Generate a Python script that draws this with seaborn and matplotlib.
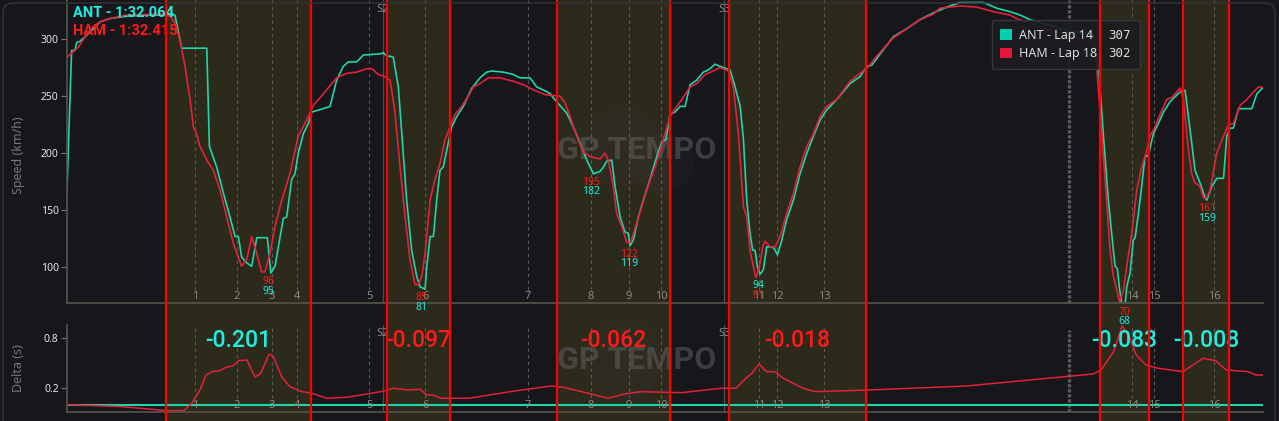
import matplotlib
matplotlib.use("Agg")
import matplotlib.pyplot as plt
import seaborn as sns
from matplotlib.patches import Patch, Circle, FancyBboxPatch
from matplotlib.transforms import IdentityTransform

# --- data (distance in m, speed in km/h) ---
lap_length = 5451
drivers = ["ANT", "HAM"]
lap_times = ["1:32.064", "1:32.415"]
lap_numbers = [14, 18]

ant_dist = [0, 21, 36, 44, 59, 82, 120, 150, 196, 272,
            348, 492, 523, 637, 649, 682, 713, 743, 766, 781,
            796, 819, 842, 865, 913, 929, 948, 986, 1001, 1024,
            1039, 1054, 1077, 1100, 1115, 1184, 1199, 1229, 1259, 1282,
            1320, 1351, 1427, 1442, 1457, 1472, 1487, 1510, 1526, 1548,
            1571, 1594, 1609, 1632, 1640, 1655, 1670, 1685, 1700, 1715,
            1738, 1753, 1776, 1806, 1845, 1882, 1913, 1936, 1989, 2034,
            2065, 2110, 2118, 2141, 2186, 2202, 2232, 2278, 2308, 2338,
            2369, 2399, 2429, 2445, 2460, 2483, 2498, 2521, 2543, 2558,
            2566, 2581, 2604, 2627, 2657, 2688, 2711, 2730, 2748, 2771,
            2794, 2817, 2840, 2870, 2900, 2923, 2954, 2976, 3022, 3045,
            3068, 3083, 3098, 3113, 3125, 3136, 3146, 3159, 3174, 3189,
            3204, 3222, 3238, 3258, 3280, 3311, 3341, 3372, 3402, 3432,
            3463, 3508, 3569, 3614, 3645, 3668, 3706, 3766, 3827, 3888,
            3949, 4010, 4070, 4177, 4238, 4298, 4344, 4389, 4567, 4676,
            4701, 4723, 4746, 4769, 4777, 4787, 4796, 4807, 4823, 4830,
            4845, 4860, 4868, 4883, 4898, 4913, 4929, 4951, 4974, 4997,
            5027, 5058, 5081, 5096, 5111, 5126, 5141, 5164, 5187, 5195,
            5218, 5240, 5271, 5286, 5301, 5316, 5339, 5400, 5423, 5448]
ant_speed = [168, 290, 290, 297, 298, 302, 309, 315, 318, 320,
             321, 321, 292, 292, 206, 188, 165, 144, 127, 127,
             109, 104, 101, 126, 126, 95, 101, 143, 144, 177,
             182, 200, 217, 226, 236, 240, 241, 264, 276, 280,
             280, 286, 287, 288, 285, 285, 284, 258, 217, 159,
             115, 92, 83, 81, 101, 127, 127, 159, 185, 188,
             209, 223, 232, 241, 257, 266, 271, 272, 271, 269,
             266, 266, 264, 258, 254, 252, 245, 235, 223, 209,
             194, 182, 184, 188, 193, 194, 171, 144, 131, 130,
             119, 124, 144, 159, 177, 197, 210, 212, 234, 236,
             241, 241, 260, 264, 271, 273, 278, 276, 273, 258,
             241, 212, 159, 130, 115, 115, 101, 94, 98, 118,
             118, 117, 111, 124, 142, 159, 182, 200, 215, 229,
             238, 247, 261, 267, 276, 277, 287, 302, 309, 317,
             323, 328, 332, 332, 327, 324, 321, 317, 307, 304,
             276, 217, 159, 115, 101, 99, 83, 68, 68, 83,
             95, 124, 126, 147, 171, 197, 198, 217, 226, 236,
             245, 251, 255, 255, 232, 209, 185, 174, 161, 159,
             171, 178, 178, 215, 222, 222, 239, 239, 252, 257]

ham_dist = [0, 52, 82, 120, 150, 196, 272, 424, 469, 492,
            515, 538, 561, 576, 591, 606, 637, 667, 697, 728,
            758, 796, 819, 842, 865, 887, 902, 925, 948, 979,
            1016, 1054, 1092, 1123, 1168, 1229, 1275, 1320, 1366, 1389,
            1419, 1449, 1472, 1480, 1495, 1518, 1541, 1563, 1586, 1601,
            1617, 1632, 1655, 1677, 1700, 1723, 1746, 1768, 1799, 1829,
            1852, 1882, 1920, 1974, 2034, 2080, 2110, 2156, 2186, 2247,
            2270, 2293, 2323, 2353, 2384, 2429, 2452, 2467, 2490, 2505,
            2528, 2551, 2569, 2597, 2619, 2642, 2680, 2718, 2748, 2779,
            2802, 2840, 2870, 2908, 2946, 2976, 3014, 3037, 3060, 3083,
            3098, 3113, 3128, 3140, 3156, 3171, 3182, 3204, 3227, 3250,
            3280, 3311, 3341, 3372, 3402, 3432, 3463, 3508, 3569, 3614,
            3645, 3690, 3766, 3827, 3888, 3949, 3979, 4070, 4146, 4222,
            4298, 4328, 4567, 4676, 4693, 4716, 4738, 4754, 4769, 4785,
            4796, 4815, 4830, 4853, 4876, 4898, 4918, 4936, 4959, 4982,
            5012, 5035, 5050, 5073, 5088, 5111, 5126, 5141, 5164, 5179,
            5195, 5210, 5240, 5271, 5294, 5316, 5347, 5377, 5400, 5430,
            5448]
ham_speed = [284, 293, 302, 311, 315, 318, 321, 322, 320, 314,
             299, 276, 247, 223, 217, 206, 194, 185, 168, 144,
             121, 101, 107, 127, 112, 96, 96, 112, 136, 159,
             182, 215, 229, 242, 252, 266, 270, 271, 274, 274,
             269, 267, 264, 255, 235, 188, 144, 107, 85, 85,
             92, 112, 159, 177, 191, 212, 223, 234, 241, 250,
             258, 261, 266, 266, 263, 260, 257, 253, 251, 250,
             244, 232, 215, 201, 197, 195, 200, 194, 171, 147,
             136, 122, 122, 139, 153, 168, 188, 212, 232, 241,
             247, 258, 261, 269, 272, 275, 272, 258, 217, 153,
             144, 115, 101, 91, 101, 118, 123, 118, 118, 127,
             147, 165, 188, 206, 217, 232, 241, 247, 263, 270,
             274, 285, 301, 309, 317, 322, 327, 329, 328, 324,
             321, 318, 302, 298, 276, 217, 159, 115, 92, 80,
             70, 80, 101, 130, 168, 188, 200, 215, 223, 234,
             247, 249, 252, 257, 247, 203, 182, 174, 171, 161,
             161, 168, 200, 215, 225, 226, 242, 247, 252, 258,
             258]

# gap to ANT (s), ANT is the reference at zero
delta_dist = [0, 251, 456, 533, 570, 606, 634, 661, 697, 727,
              755, 783, 820, 857, 884, 921, 941, 978, 1016, 1071,
              1117, 1183, 1276, 1367, 1444, 1490, 1554, 1609, 1639, 1667,
              1704, 1832, 2019, 2206, 2261, 2375, 2466, 2541, 2612, 2799,
              2984, 3049, 3095, 3122, 3154, 3188, 3226, 3264, 3355, 3412,
              3654, 4100, 4471, 4677, 4713, 4770, 4809, 4845, 4873, 4918,
              4973, 5087, 5132, 5178, 5235, 5283, 5383, 5419, 5451]
delta_ham = [0.0, -0.024, -0.072, -0.072, 0.020, 0.176, 0.356, 0.396, 0.408, 0.452,
             0.464, 0.528, 0.536, 0.332, 0.380, 0.608, 0.576, 0.336, 0.216, 0.156,
             0.137, 0.077, 0.089, 0.128, 0.164, 0.197, 0.176, 0.185, 0.116, 0.116,
             0.077, 0.077, 0.156, 0.224, 0.209, 0.137, 0.077, 0.128, 0.156, 0.144,
             0.197, 0.197, 0.317, 0.377, 0.488, 0.396, 0.396, 0.317, 0.197, 0.156,
             0.176, 0.224, 0.317, 0.368, 0.416, 0.636, 0.944, 0.797, 0.596, 0.476,
             0.437, 0.396, 0.476, 0.557, 0.528, 0.416, 0.396, 0.356, 0.356]
delta_ant_dist = [0, 5451]
delta_ant = [0.0, 0.0]

corner_labels = ["1", "2", "3", "4", "5", "6", "7", "8", "9", "10",
                 "11", "12", "13", "14", "15", "16"]
corner_dist = [583, 775, 934, 1048, 1377, 1632, 2101, 2388, 2562, 2707,
               3154, 3236, 3450, 4854, 4954, 5228]
sector_labels = ["S2", "S3"]
sector_dist = [1440, 2995]
cursor_dist = 4567
hover_ant = 307
hover_ham = 302

zone_start = [451, 1459, 2233, 3017, 4708, 5087]
zone_end = [1112, 1746, 2748, 3642, 4932, 5296]
zone_delta = ["-0.201", "-0.097", "-0.062", "-0.018", "-0.083", "-0.008"]
zone_winner = ["ANT", "HAM", "HAM", "HAM", "ANT", "ANT"]

min_dist = [916, 1614, 2388, 2562, 3150, 4818, 5196]
min_ant = [95, 81, 182, 119, 94, 68, 159]
min_ham = [96, 85, 195, 122, 91, 70, 161]

# --- colours ---
BG = "#16161b"
ZONE = "#2c2a1b"
ANT_C = "#1fd6aa"
HAM_C = "#e3213b"
ANT_TXT = "#1eeee0"
HAM_TXT = "#ff1a1a"
GRID = "#5a5a5a"

sns.set_theme(style="dark", rc={"axes.facecolor": "none", "figure.facecolor": BG})
plt.rcParams['font.family'] = ['Noto Sans', 'DejaVu Sans']

fig = plt.figure(figsize=(12.79, 4.21), dpi=100, facecolor=BG)
L, W = 67 / 1279, 1196 / 1279
ax_bg = fig.add_axes([L, 0, W, 1], zorder=0)
ax_top = fig.add_axes([L, 118 / 421, W, 303 / 421], zorder=1)
ax_dl = fig.add_axes([L, 9 / 421, W, 87 / 421], zorder=1)
ax_fg = fig.add_axes([L, 0, W, 1], zorder=5)
for a in (ax_bg, ax_fg):
    a.set_xlim(0, lap_length)
    a.set_ylim(0, 1)
    a.axis('off')

# zones behind everything, red limits on top of everything
for s, e in zip(zone_start, zone_end):
    ax_bg.axvspan(s, e, color=ZONE, lw=0)
    ax_fg.axvline(s, color="#ff0000", lw=1.6)
    ax_fg.axvline(e, color="#ff0000", lw=1.6)

# faint watermark circles
for (cx, cy, r) in [(623, 274, 40), (663, 258, 30), (623, 61, 40)]:
    fig.add_artist(Circle((cx, cy), r, transform=IdentityTransform(),
                          facecolor="#3a3a3a", alpha=0.18, lw=0, zorder=0.5))

# --- speed panel ---
sns.lineplot(x=ant_dist, y=ant_speed, ax=ax_top, color=ANT_C, lw=1.2,
             estimator=None, sort=False)
sns.lineplot(x=ham_dist, y=ham_speed, ax=ax_top, color=HAM_C, lw=1.2,
             estimator=None, sort=False)
ax_top.set_xlim(0, lap_length)
ax_top.set_ylim(68.8, 334.2)
ax_top.set_yticks([100, 150, 200, 250, 300])
ax_top.set_xticks([])
ax_top.set_xlabel("")

# --- delta panel ---
sns.lineplot(x=delta_ant_dist, y=delta_ant, ax=ax_dl, color=ANT_C, lw=1.5,
             estimator=None, sort=False)
sns.lineplot(x=delta_dist, y=delta_ham, ax=ax_dl, color=HAM_C, lw=1.1,
             estimator=None, sort=False)
ax_dl.set_xlim(0, lap_length)
ax_dl.set_ylim(-0.088, 0.956)
ax_dl.set_yticks([0.2, 0.8])
ax_dl.set_yticklabels(["0.2", "0.8"])
ax_dl.set_xticks([])
ax_dl.set_xlabel("")

for ax in (ax_top, ax_dl):
    ax.set_facecolor("none")
    ax.grid(False)
    for sp in ("top", "right"):
        ax.spines[sp].set_visible(False)
    for sp in ("left", "bottom"):
        ax.spines[sp].set_visible(True)
        ax.spines[sp].set_color("#55554d")
        ax.spines[sp].set_linewidth(1.2)
    ax.tick_params(axis="y", left=True, length=4, width=0.8, color="#777777",
                   labelcolor="#e6e6e6", labelsize=7.5, pad=2)

ax_top.set_ylabel("Speed (km/h)", color="#777777", fontsize=9)
ax_top.yaxis.set_label_coords(-0.035, 0.488)
ax_dl.set_ylabel("Delta (s)", color="#777777", fontsize=9)
ax_dl.yaxis.set_label_coords(-0.035, 0.506)

# corners, sectors, cursor
for ax, ymin, ylab in ((ax_top, 0.043, 0.02), (ax_dl, 0.16, 0.08)):
    tr = ax.get_xaxis_transform()
    for d, lab in zip(corner_dist, corner_labels):
        ax.axvline(d, ymin=ymin, ymax=1, color=GRID, lw=0.8, ls=(0, (3, 3)), zorder=0.8)
        ax.text(d, ylab, lab, transform=tr, ha="center", va="center",
                color="#8a8a82", fontsize=8)

for ax, ytxt in ((ax_top, 0.967), (ax_dl, 0.908)):
    tr = ax.get_xaxis_transform()
    for d, lab in zip(sector_dist, sector_labels):
        ax.axvline(d, color="#4c4c4c", lw=1, zorder=0.8)
        ax.text(d, ytxt, lab, transform=tr, ha="center", va="center",
                color="#8a8a8a", fontsize=8)

ax_top.axvline(cursor_dist, color="#5a5a5a", lw=2.4, ls=(0, (1, 0.5)), zorder=0.9)
ax_dl.axvline(cursor_dist, ymax=0.94, color="#5a5a5a", lw=2.4, ls=(0, (1, 0.5)), zorder=0.9)

# watermark text
ax_top.text(2598, 203, "GP TEMPO", ha="center", va="center", fontsize=23,
            family="Roboto", fontweight="bold", color="#5e5e5e", alpha=0.55, zorder=0.6)
ax_dl.text(2598, 0.54, "GP TEMPO", ha="center", va="center", fontsize=23,
           family="Roboto", fontweight="bold", color="#5e5e5e", alpha=0.55, zorder=0.6)

# minimum speed labels
for d, a, h in zip(min_dist, min_ant, min_ham):
    pairs = sorted([(a, ANT_TXT), (h, HAM_TXT)], reverse=True)
    low = min(a, h)
    for (v, c), off in zip(pairs, (-6, -13)):
        ax_top.annotate(str(v), xy=(d, low), xytext=(0, off), textcoords="offset points",
                        ha="center", va="center", color=c, fontsize=7.5,
                        fontweight="bold", annotation_clip=False, zorder=6)

# zone deltas
tr = ax_dl.get_xaxis_transform()
for s, e, txt, who in zip(zone_start, zone_end, zone_delta, zone_winner):
    ax_dl.text((s + e) / 2, 0.82, txt, transform=tr, ha="center", va="center",
               fontsize=16.5, family="Roboto", fontweight="medium",
               color=ANT_TXT if who == "ANT" else HAM_TXT, zorder=6)

# title
for i, (drv, lt, c) in enumerate(zip(drivers, lap_times, (ANT_TXT, HAM_TXT))):
    ax_top.text(0.005, 0.957 - i * 0.059, f"{drv} - {lt}", transform=ax_top.transAxes,
                ha="left", va="center", color=c, fontsize=10.5, fontweight="bold",
                family="Roboto", zorder=6)

# legend with hover values
handles = [Patch(facecolor="#00cfb2", edgecolor="none"),
           Patch(facecolor="#e8153a", edgecolor="none"),
           Patch(alpha=0), Patch(alpha=0)]
labels = [f"{drivers[0]} - Lap {lap_numbers[0]}", f"{drivers[1]} - Lap {lap_numbers[1]}",
          str(hover_ant), str(hover_ham)]
leg = ax_top.legend(handles, labels, ncol=2, loc="upper left", bbox_to_anchor=(0.773, 0.934),
                    borderaxespad=0, frameon=True, facecolor="#1c1c21", edgecolor="#3a3a3a",
                    framealpha=0.92, fontsize=9, labelcolor="#dcdcdc", handlelength=0.9,
                    handleheight=0.9, handletextpad=0.6, columnspacing=-0.6, borderpad=0.7,
                    labelspacing=0.45, fancybox=True)
for t in leg.get_texts()[2:]:
    t.set_family("DejaVu Sans Mono")

# rounded outer frame
fig.add_artist(FancyBboxPatch((3, -20), 1272, 438, boxstyle="round,pad=0,rounding_size=10",
                              transform=IdentityTransform(), facecolor="none",
                              edgecolor="#34343a", lw=1, zorder=10))

fig.savefig("out.png", dpi=100, facecolor=BG)
